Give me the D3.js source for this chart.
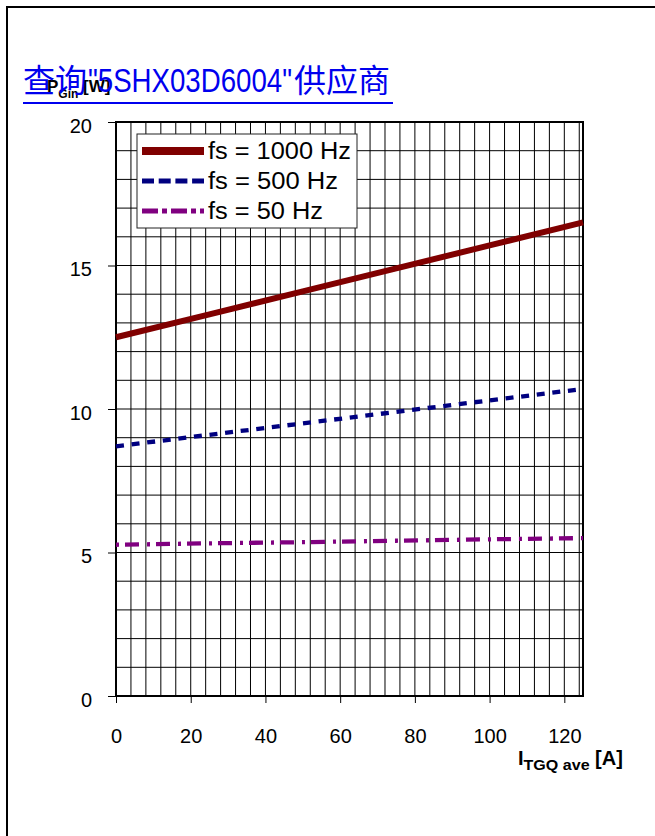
<!DOCTYPE html>
<html>
<head>
<meta charset="utf-8">
<script src="https://cdn.jsdelivr.net/npm/d3@7"></script>
<style>
  body { margin: 0; background: #fff; }
  svg { display: block; }
</style>
</head>
<body>
<script>
// chart values
var currents = [0, 25, 50, 75, 100, 125];
var p1000 = [12.5, 13.3, 14.1, 14.9, 15.7, 16.5];
var p500 = [8.7, 9.1, 9.5, 9.9, 10.3, 10.7];
var p50 = [5.27, 5.32, 5.36, 5.41, 5.46, 5.5];
var seriesNames = ["fs = 1000 Hz", "fs = 500 Hz", "fs = 50 Hz"];
var xTicks = [0, 20, 40, 60, 80, 100, 120];
var yTicks = [0, 5, 10, 15, 20];

var margin = { top: 122, left: 116 };
var width = 467;
var height = 574;

var root = d3.select("body").append("svg")
    .attr("width", 655)
    .attr("height", 836);

// page frame
root.append("rect")
    .attr("x", 7).attr("y", 7)
    .attr("width", 800).attr("height", 900)
    .attr("fill", "none")
    .attr("stroke", "#000")
    .attr("stroke-width", 2);

var svg = root.append("g")
    .attr("transform", "translate(" + margin.left + "," + margin.top + ")");

var x = d3.scaleLinear().domain([0, 125]).range([0, width]);
var y = d3.scaleLinear().domain([0, 20]).range([height, 0]);

// grid
svg.append("g").selectAll("line.v")
    .data(d3.range(4, 125, 4))
    .enter().append("line")
    .attr("x1", d => x(d)).attr("x2", d => x(d))
    .attr("y1", 0).attr("y2", height)
    .attr("stroke", "#000").attr("stroke-width", 1);

svg.append("g").selectAll("line.h")
    .data(d3.range(1, 20, 1))
    .enter().append("line")
    .attr("x1", 0).attr("x2", width)
    .attr("y1", d => y(d)).attr("y2", d => y(d))
    .attr("stroke", "#000").attr("stroke-width", 1);

// axes
var yAxis = svg.append("g")
    .call(d3.axisLeft(y).tickValues(yTicks).tickSize(8).tickPadding(16));
var xAxis = svg.append("g")
    .attr("transform", "translate(0," + height + ")")
    .call(d3.axisBottom(x).tickValues(xTicks).tickSize(7).tickPadding(26));

[xAxis, yAxis].forEach(function (a) {
    a.select(".domain").remove();
    a.selectAll("line").attr("stroke", "#000").attr("stroke-width", 1);
    a.selectAll("text")
        .attr("fill", "#000")
        .style("font-family", "'Liberation Sans', Arial, sans-serif")
        .style("font-size", "20px");
});
yAxis.selectAll("text").attr("dy", "0.5em");

// plot border
svg.append("rect")
    .attr("width", width).attr("height", height)
    .attr("fill", "none")
    .attr("stroke", "#000")
    .attr("stroke-width", 2);

// series lines
var series = [
    { values: p1000, color: "#800000", width: 6, dash: null, legendWidth: 8, legendDash: null },
    { values: p500, color: "#000080", width: 4.3, dash: "8,7.7", legendWidth: 5, legendDash: "12,4.7" },
    { values: p50, color: "#800080", width: 4.3, dash: "3,6,14,8", legendWidth: 5, legendDash: "16,4,5,4" }
];

var line = d3.line()
    .x((d, i) => x(currents[i]))
    .y(d => y(d));

series.forEach(function (s) {
    svg.append("path")
        .datum(s.values)
        .attr("d", line)
        .attr("fill", "none")
        .attr("stroke", s.color)
        .attr("stroke-width", s.width)
        .attr("stroke-dasharray", s.dash);
});

// legend
var legend = root.append("g").attr("transform", "translate(137,134)");
legend.append("rect")
    .attr("width", 220).attr("height", 94)
    .attr("fill", "#fff")
    .attr("stroke", "#222")
    .attr("stroke-width", 1);

var legendLengths = [143, 130, 115];
series.forEach(function (s, i) {
    var ly = 17 + i * 30;
    legend.append("line")
        .attr("x1", 5).attr("x2", 67)
        .attr("y1", ly).attr("y2", ly)
        .attr("stroke", s.color)
        .attr("stroke-width", s.legendWidth)
        .attr("stroke-dasharray", s.legendDash);
    legend.append("text")
        .attr("x", 71).attr("y", ly + 8)
        .attr("textLength", legendLengths[i])
        .attr("lengthAdjust", "spacingAndGlyphs")
        .style("font-family", "'Liberation Sans', Arial, sans-serif")
        .style("font-size", "23.5px")
        .text(seriesNames[i]);
});

// y label
var yl = root.append("text")
    .attr("x", 47).attr("y", 92)
    .style("font-family", "'Liberation Sans', Arial, sans-serif")
    .style("font-weight", "bold")
    .style("font-size", "17px");
yl.append("tspan").text("P");
yl.append("tspan").attr("dy", 6).style("font-size", "12px").text("Gin");
yl.append("tspan").attr("dy", -6).text(" [W]");

// x label
var xl = root.append("text")
    .attr("x", 518).attr("y", 765)
    .style("font-family", "'Liberation Sans', Arial, sans-serif")
    .style("font-weight", "bold")
    .style("font-size", "20px");
xl.append("tspan").text("I");
xl.append("tspan").attr("dy", 5).style("font-size", "15px")
    .attr("textLength", 66).attr("lengthAdjust", "spacingAndGlyphs")
    .text("TGQ ave");
xl.append("tspan").attr("dy", -5).text(" [A]");

// blue link title drawn over the chart
var tfont = "'Liberation Sans', 'Noto Sans CJK SC', sans-serif";
root.append("text")
    .attr("x", 23).attr("y", 92)
    .attr("fill", "#0000ee")
    .style("font-family", "'Noto Sans CJK SC', sans-serif")
    .style("font-size", "32px")
    .text("查询");
root.append("text")
    .attr("x", 88).attr("y", 92)
    .attr("fill", "#0000ee")
    .attr("textLength", 204)
    .attr("lengthAdjust", "spacingAndGlyphs")
    .style("font-family", tfont)
    .style("font-size", "33px")
    .text("\"5SHX03D6004\"");
root.append("text")
    .attr("x", 294).attr("y", 92)
    .attr("fill", "#0000ee")
    .style("font-family", "'Noto Sans CJK SC', sans-serif")
    .style("font-size", "32px")
    .text("供应商");
root.append("line")
    .attr("x1", 23).attr("x2", 393)
    .attr("y1", 103).attr("y2", 103)
    .attr("stroke", "#0000ee")
    .attr("stroke-width", 2);
</script>
</body>
</html>
